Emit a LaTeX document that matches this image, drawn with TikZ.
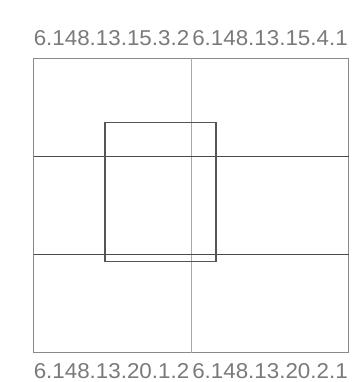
\documentclass[tikz,border=0pt]{standalone}
\usepackage{fontspec}
\setmainfont{Liberation Sans}
\definecolor{txtgray}{HTML}{7A7A7A}
\definecolor{boxgray}{HTML}{8A8A8A}
\definecolor{midgray}{HTML}{A8A8A8}
\definecolor{darkline}{HTML}{4A4A4A}
\definecolor{innergray}{HTML}{555555}
\tikzset{
  lbl/.style={inner sep=0pt, anchor=base, text=txtgray, font=\fontsize{21.5}{24}\selectfont, xscale=1.04},
  outerbox/.style={draw=boxgray, line width=1pt},
  midline/.style={draw=midgray, line width=1.5pt},
  hline/.style={draw=darkline, line width=1pt},
  innerbox/.style={draw=innergray, line width=1.4pt},
}
\begin{document}
\begin{tikzpicture}[x=1pt,y=-1pt]
\useasboundingbox (0,0) rectangle (360,382);
\draw[outerbox] (33.5,58.5) rectangle (348.5,352.5);
\draw[midline] (191.5,58.5) -- (191.5,352.5);
\draw[hline] (33.5,156.5) -- (348.5,156.5);
\draw[hline] (33.5,254.5) -- (348.5,254.5);
\draw[innerbox] (105,122.5) rectangle (216,261.5);
\node[lbl] (tl) at (111.5,46) {6.148.13.15.3.2};
\node[lbl] (tr) at (270,46) {6.148.13.15.4.1};
\node[lbl] (bl) at (111.5,378) {6.148.13.20.1.2};
\node[lbl] (br) at (270,378) {6.148.13.20.2.1};
\end{tikzpicture}
\end{document}
